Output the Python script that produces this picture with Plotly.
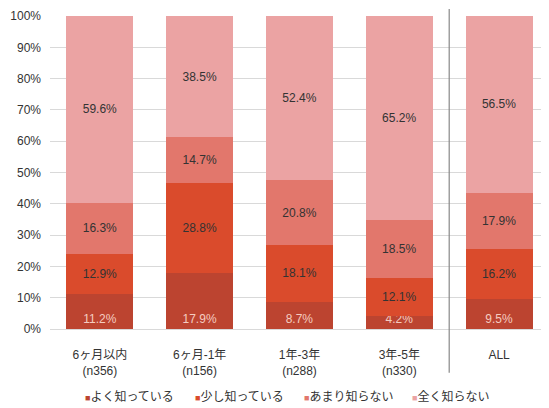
import plotly.graph_objects as go

categories = ["6ヶ月以内<br>(n356)", "6ヶ月-1年<br>(n156)", "1年-3年<br>(n288)", "3年-5年<br>(n330)", "ALL"]
series_names = ["よく知っている", "少し知っている", "あまり知らない", "全く知らない"]
yoku = [11.2, 17.9, 8.7, 4.2, 9.5]
sukoshi = [12.9, 28.8, 18.1, 12.1, 16.2]
amari = [16.3, 14.7, 20.8, 18.5, 17.9]
mattaku = [59.6, 38.5, 52.4, 65.2, 56.5]
y_ticks = [0, 10, 20, 30, 40, 50, 60, 70, 80, 90, 100]

values = [yoku, sukoshi, amari, mattaku]
colors = ["#BC4430", "#DA4B2C", "#E2776C", "#EBA3A3"]
text_colors = ["#F5CCC0", "#333333", "#333333", "#333333"]
anchors = ["start", "middle", "middle", "middle"]
legend_x = [0.066, 0.287, 0.505, 0.721]

FONT = "Liberation Sans, Arial, Noto Sans CJK JP, sans-serif"

fig = go.Figure()
for name, vals, col, tc, anc in zip(series_names, values, colors, text_colors, anchors):
    fig.add_trace(go.Bar(
        x=categories, y=vals, name=name,
        marker=dict(color=col, line=dict(width=0)),
        text=[f"{v:.1f}%" for v in vals],
        textposition="inside", insidetextanchor=anc,
        constraintext="none",
        textfont=dict(color=tc, size=12, family=FONT),
        showlegend=False,
    ))

for name, col, lx in zip(series_names, colors, legend_x):
    fig.add_annotation(
        xref="paper", yref="paper", x=lx, y=-0.217, xanchor="left", yanchor="middle",
        text=f"<span style='color:{col};font-size:9px'>■</span>{name}",
        showarrow=False, font=dict(size=12, color="#333333", family=FONT),
    )

fig.add_shape(type="line", xref="x", yref="paper", x0=3.5, x1=3.5, y0=-0.14, y1=1.022,
              line=dict(color="#888888", width=1.2))

fig.update_layout(
    barmode="stack", bargap=0.33,
    width=541, height=400,
    margin=dict(l=42, r=0, t=8, b=79, autoexpand=False),
    paper_bgcolor="white", plot_bgcolor="white",
    showlegend=False,
    font=dict(family=FONT, size=12, color="#333333"),
    xaxis=dict(showgrid=False, showline=False, ticks="", tickfont=dict(size=12, color="#333333"),
               ticklabelstandoff=17, automargin=False),
    yaxis=dict(range=[0, 100], tickvals=y_ticks, ticktext=[f"{t}%" for t in y_ticks],
               showgrid=True, gridcolor="#D9D9D9", gridwidth=1, zeroline=True,
               zerolinecolor="#D9D9D9", zerolinewidth=1, ticks="", automargin=False,
               tickfont=dict(size=12, color="#333333"), ticklabelstandoff=8),
)

fig.write_html("out.html")
